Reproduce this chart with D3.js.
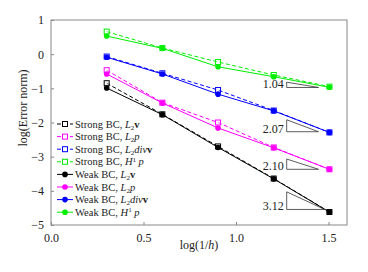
<!DOCTYPE html>
<html>
<head>
<meta charset="utf-8">
<script src="https://cdn.jsdelivr.net/npm/d3@7"></script>
<style>
  body { margin: 0; background: #fff; }
  svg text { font-family: "Liberation Serif", "Times New Roman", Times, "DejaVu Serif", serif; }
</style>
</head>
<body>
<div id="chart"></div>
<script>
// mesh levels, log10(1/h)
const xs = [0.301, 0.602, 0.903, 1.204, 1.505];

// strong BC (dashed, open squares)
const strongL2v = [-0.85, -1.76, -2.70, -3.64, -4.62];
const strongL2p = [-0.47, -1.42, -2.00, -2.73, -3.37];
const strongL2div = [-0.07, -0.56, -1.05, -1.65, -2.29];
const strongH1p = [0.66, 0.18, -0.23, -0.61, -0.95];

// weak BC (solid, filled circles)
const weakL2v = [-0.99, -1.77, -2.73, -3.65, -4.62];
const weakL2p = [-0.58, -1.43, -2.16, -2.74, -3.37];
const weakL2div = [-0.09, -0.58, -1.17, -1.66, -2.29];
const weakH1p = [0.53, 0.17, -0.37, -0.66, -0.97];

const xTicks = [0.0, 0.5, 1.0, 1.5];
const yTicks = [1, 0, -1, -2, -3, -4, -5];

// slope triangles (data coords)
const slopeLabels = ["1.04", "2.07", "2.10", "3.12"];
const slopeX0 = [1.274, 1.274, 1.274, 1.274];
const slopeX1 = [1.446, 1.446, 1.446, 1.479];
const slopeTop = [-0.82, -1.92, -3.07, -4.03];
const slopeBot = [-0.975, -2.27, -3.37, -4.545];

const series = [
  { label: "Strong BC, ", kind: "v", vals: strongL2v, color: "#000000", strong: true },
  { label: "Strong BC, ", kind: "p", vals: strongL2p, color: "#ff00ff", strong: true },
  { label: "Strong BC, ", kind: "div", vals: strongL2div, color: "#0000ff", strong: true },
  { label: "Strong BC, ", kind: "h1", vals: strongH1p, color: "#00ee00", strong: true },
  { label: "Weak BC, ", kind: "v", vals: weakL2v, color: "#000000", strong: false },
  { label: "Weak BC, ", kind: "p", vals: weakL2p, color: "#ff00ff", strong: false },
  { label: "Weak BC, ", kind: "div", vals: weakL2div, color: "#0000ff", strong: false },
  { label: "Weak BC, ", kind: "h1", vals: weakH1p, color: "#00ee00", strong: false }
];

const FONT = '"Liberation Serif", "Times New Roman", Times, "DejaVu Serif", serif';
const svg = d3.select("#chart").append("svg").attr("width", 368).attr("height", 272)
  .attr("font-family", FONT);
const margins = { top: 20, right: 21, left: 51, bottom: 47 };
const width = 368, height = 272;
const chartWidth = width - margins.left - margins.right;
const chartHeight = height - margins.top - margins.bottom;

const x = d3.scaleLinear().domain([0, 1.6]).range([margins.left, margins.left + chartWidth]);
const y = d3.scaleLinear().domain([-5, 1]).range([margins.top + chartHeight, margins.top]);

// axes with inward ticks
svg.append("g")
  .attr("transform", `translate(0,${margins.top + chartHeight})`)
  .call(d3.axisBottom(x).tickValues(xTicks).tickSizeInner(-3).tickSizeOuter(0).tickPadding(8).tickFormat(d3.format(".1f")))
  .attr("font-family", FONT)
  .call(g => g.select(".domain").remove())
  .call(g => g.selectAll("line").attr("stroke", "#888"))
  .call(g => g.selectAll("text").attr("font-size", "12px").attr("fill", "#222"));

svg.append("g")
  .attr("transform", `translate(${margins.left},0)`)
  .call(d3.axisLeft(y).tickValues(yTicks).tickSizeInner(-3).tickSizeOuter(0).tickPadding(7).tickFormat(d3.format("d")))
  .attr("font-family", FONT)
  .call(g => g.select(".domain").remove())
  .call(g => g.selectAll("line").attr("stroke", "#888"))
  .call(g => g.selectAll("text").attr("font-size", "12px").attr("fill", "#222"));

// frame
svg.append("rect")
  .attr("x", margins.left).attr("y", margins.top)
  .attr("width", chartWidth).attr("height", chartHeight)
  .attr("fill", "none").attr("stroke", "#888").attr("stroke-width", 1);

// axis titles
const xt = svg.append("text").attr("x", x(0.8)).attr("y", 249)
  .attr("text-anchor", "middle").attr("font-size", "12px").attr("fill", "#222");
xt.append("tspan").text("log(1/");
xt.append("tspan").attr("font-style", "italic").text("h");
xt.append("tspan").text(")");

svg.append("text")
  .attr("transform", "translate(27,108) rotate(-90)")
  .attr("text-anchor", "middle").attr("font-size", "12px").attr("fill", "#222")
  .text("log(Error norm)");

// lines: strong first, then weak on top
const line = d3.line().x((d, i) => x(xs[i])).y(d => y(d));
const plot = svg.append("g");

series.forEach(s => {
  plot.append("path")
    .datum(s.vals)
    .attr("d", line)
    .attr("fill", "none")
    .attr("stroke", s.color)
    .attr("stroke-width", 1)
    .attr("stroke-dasharray", s.strong ? "4,2.5" : null);
});

series.forEach(s => {
  s.vals.forEach((v, i) => {
    if (s.strong) {
      plot.append("rect")
        .attr("x", x(xs[i]) - 2.5).attr("y", y(v) - 2.5)
        .attr("width", 5).attr("height", 5)
        .attr("fill", "white").attr("fill-opacity", 0.4)
        .attr("stroke", s.color).attr("stroke-width", 1);
    } else {
      plot.append("circle")
        .attr("cx", x(xs[i])).attr("cy", y(v)).attr("r", 2.8)
        .attr("fill", s.color);
    }
  });
});

// slope triangles
slopeLabels.forEach((lab, i) => {
  const x0 = x(slopeX0[i]), x1 = x(slopeX1[i]);
  const y0 = y(slopeTop[i]), y1 = y(slopeBot[i]);
  svg.append("path")
    .attr("d", `M${x0},${y0} L${x0},${y1} L${x1},${y1} Z`)
    .attr("fill", "none").attr("stroke", "#333").attr("stroke-width", 0.8);
  svg.append("text")
    .attr("x", x0 - 3).attr("y", y1 + 1)
    .attr("text-anchor", "end").attr("font-size", "12px").attr("fill", "#222")
    .text(lab);
});

// legend
const legend = svg.append("g");
const legX = 57, legY = 124, legStep = 12.6;
series.forEach((s, i) => {
  const ly = legY + i * legStep;
  legend.append("line")
    .attr("x1", legX).attr("x2", legX + 16).attr("y1", ly).attr("y2", ly)
    .attr("stroke", s.color).attr("stroke-width", 1)
    .attr("stroke-dasharray", s.strong ? "4,2.5" : null);
  if (s.strong) {
    legend.append("rect").attr("x", legX + 5.5).attr("y", ly - 2.5).attr("width", 5).attr("height", 5)
      .attr("fill", "white").attr("stroke", s.color);
  } else {
    legend.append("circle").attr("cx", legX + 8).attr("cy", ly).attr("r", 2.8).attr("fill", s.color);
  }
  const t = legend.append("text").attr("x", legX + 18).attr("y", ly + 3.6)
    .attr("font-size", "10.5px").attr("fill", "#222");
  t.append("tspan").text(s.label);
  if (s.kind === "h1") {
    t.append("tspan").attr("font-style", "italic").text("H");
    t.append("tspan").attr("font-size", "7px").attr("dy", -3.5).text("1");
    t.append("tspan").attr("font-style", "italic").attr("dy", 3.5).text(" p");
  } else {
    t.append("tspan").attr("font-style", "italic").text("L");
    t.append("tspan").attr("font-size", "7px").attr("dy", 2).text("2");
    if (s.kind === "v") {
      t.append("tspan").attr("font-weight", "bold").attr("dy", -2).text("v");
    } else if (s.kind === "p") {
      t.append("tspan").attr("font-style", "italic").attr("dy", -2).text("p");
    } else {
      t.append("tspan").attr("font-style", "italic").attr("dy", -2).text("div");
      t.append("tspan").attr("font-weight", "bold").text("v");
    }
  }
});
</script>
</body>
</html>
